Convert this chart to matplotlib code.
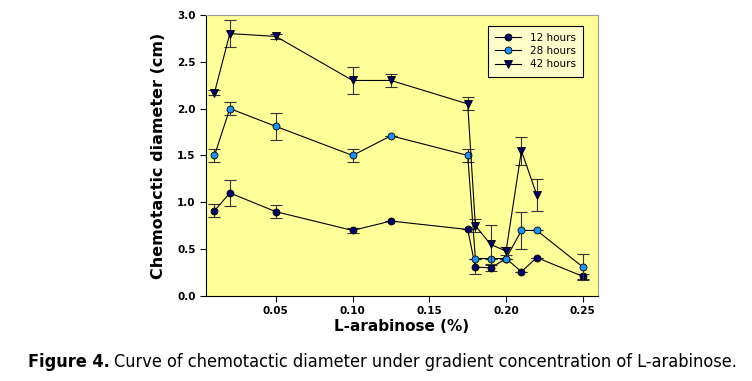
import matplotlib
matplotlib.use('Agg')
import matplotlib.pyplot as plt

conc = [0.01, 0.02, 0.05, 0.10, 0.125, 0.175, 0.18, 0.19, 0.20, 0.21, 0.22, 0.25]

h12 = [0.91, 1.10, 0.90, 0.70, 0.80, 0.71, 0.31, 0.30, 0.40, 0.26, 0.41, 0.21]
h12_err = [0.07, 0.14, 0.07, 0.03, 0.0, 0.0, 0.08, 0.03, 0.0, 0.0, 0.0, 0.03]

h28 = [1.50, 2.00, 1.81, 1.50, 1.71, 1.50, 0.40, 0.40, 0.40, 0.70, 0.70, 0.31]
h28_err = [0.07, 0.07, 0.14, 0.07, 0.0, 0.07, 0.0, 0.0, 0.0, 0.20, 0.0, 0.14]

conc42 = conc[:11]
h42 = [2.17, 2.80, 2.77, 2.30, 2.30, 2.05, 0.75, 0.55, 0.48, 1.55, 1.08]
h42_err = [0.03, 0.14, 0.03, 0.14, 0.07, 0.07, 0.07, 0.21, 0.04, 0.15, 0.17]

fig = plt.figure(figsize=(7.52, 3.81), dpi=100)
ax = fig.add_axes([0.274, 0.223, 0.521, 0.738])
ax.set_facecolor('#ffff99')

err_style = dict(fmt='none', ecolor='#333333', elinewidth=0.8, capsize=4, capthick=0.8)
line_style = dict(color='black', lw=0.8, markeredgecolor='black', markeredgewidth=0.6)

series = [
    (conc, h12, h12_err, 'o', 5, '#000066', '12 hours'),
    (conc, h28, h28_err, 'o', 5, '#1e90ff', '28 hours'),
    (conc42, h42, h42_err, 'v', 5.5, '#000066', '42 hours'),
]
for x, y, e, m, ms, fc, lab in series:
    ax.errorbar(x, y, yerr=e, **err_style)
    ax.plot(x, y, marker=m, ms=ms, markerfacecolor=fc, label=lab, **line_style)

ax.set_xlim(0.0045, 0.2598)
ax.set_ylim(0, 3.0)
ax.set_xticks([0.05, 0.10, 0.15, 0.20, 0.25])
ax.set_xticklabels(['0.05', '0.10', '0.15', '0.20', '0.25'])
ax.set_yticks([0, 0.5, 1.0, 1.5, 2.0, 2.5, 3.0])
ax.set_yticklabels(['0.0', '0.5', '1.0', '1.5', '2.0', '2.5', '3.0'])
ax.tick_params(labelsize=7.5, length=4, width=0.8, direction='out')
for lab in ax.get_xticklabels() + ax.get_yticklabels():
    lab.set_fontweight('bold')
ax.spines['top'].set_color('#999999')
ax.spines['right'].set_color('#999999')

ax.set_xlabel('L-arabinose (%)', fontsize=11, fontweight='bold', labelpad=2)
ax.set_ylabel('Chemotactic diameter (cm)', fontsize=11.5, fontweight='bold', labelpad=8)

leg = ax.legend(loc='upper right', fontsize=7.5, frameon=True, fancybox=False,
                framealpha=1, edgecolor='black', facecolor='#ffffcc',
                handlelength=2.5, borderpad=0.7, labelspacing=0.3,
                bbox_to_anchor=(0.975, 0.98))
leg.get_frame().set_linewidth(0.8)

# caption: bold lead-in, then normal text placed right after it
cap_font = dict(fontsize=13, stretch='condensed', va='center')
t1 = fig.text(0.037, 0.05, 'Figure 4.', fontweight='bold', **cap_font)
fig.canvas.draw()
bb = t1.get_window_extent()
x2 = (bb.x1 + 4) / fig.bbox.width
fig.text(x2, 0.05, 'Curve of chemotactic diameter under gradient concentration of L-arabinose.',
         **cap_font)

plt.savefig('out.png', dpi=100)
